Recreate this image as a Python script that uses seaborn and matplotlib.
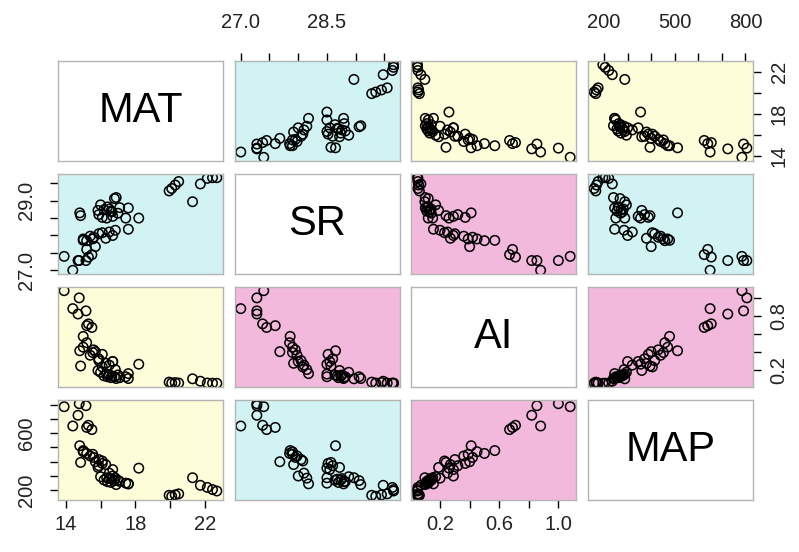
import matplotlib
matplotlib.use("Agg")
import matplotlib.pyplot as plt
import seaborn as sns
import pandas as pd

MAT = [19.95, 20.10, 20.30, 20.50, 21.30, 21.75, 22.15, 22.45, 22.70,
       13.90, 14.77, 15.16, 14.70, 14.40, 15.30, 15.50, 15.20, 14.80, 15.00, 14.85,
       18.20, 17.60, 17.45, 17.10, 16.90, 16.80, 16.65, 16.50, 16.35, 16.20, 16.00,
       16.40, 16.60, 17.00, 15.90, 16.10, 15.85, 16.70,
       17.60, 15.00, 15.20, 15.40, 15.70, 15.60, 15.90, 16.10, 16.30, 16.50, 16.70,
       15.55, 16.85]
SR = [29.28, 29.35, 29.45, 29.55, 28.97, 29.48, 29.64, 29.66, 29.66,
      27.40, 27.28, 27.28, 27.28, 27.00, 27.38, 27.45, 27.60, 28.65, 27.86, 28.57,
      28.50, 28.79, 28.50, 28.80, 29.09, 29.06, 28.68, 28.76, 28.50, 28.74, 28.88,
      28.82, 28.70, 28.64, 28.60, 28.52, 28.72, 28.55,
      28.18, 27.90, 27.85, 27.98, 27.68, 27.95, 28.05, 28.08, 27.92, 28.10, 28.00,
      27.90, 28.15]
AI = [0.060, 0.050, 0.055, 0.050, 0.097, 0.070, 0.050, 0.048, 0.047,
      1.080, 1.000, 0.855, 0.820, 0.880, 0.710, 0.670, 0.690, 0.410, 0.570, 0.240,
      0.260, 0.100, 0.120, 0.110, 0.100, 0.120, 0.130, 0.140, 0.150, 0.130, 0.170,
      0.120, 0.110, 0.140, 0.320, 0.370, 0.190, 0.290,
      0.155, 0.450, 0.500, 0.360, 0.400, 0.420, 0.300, 0.230, 0.270, 0.250, 0.290,
      0.390, 0.200]
MAP = [165, 158, 168, 175, 288, 235, 220, 205, 195,
       785, 806, 792, 725, 650, 655, 625, 640, 512, 478, 395,
       355, 245, 250, 262, 240, 268, 278, 282, 288, 272, 295,
       260, 255, 270, 372, 388, 360, 345,
       245, 470, 458, 440, 400, 430, 415, 405, 380, 320, 300,
       452, 285]

variables = ["MAT", "SR", "AI", "MAP"]
df = pd.DataFrame({"MAT": MAT, "SR": SR, "AI": AI, "MAP": MAP})

# tick positions and which ones carry labels (as in the reference)
tick_pos = {
    "MAT": [14, 16, 18, 20, 22],
    "SR": [27.0, 27.5, 28.0, 28.5, 29.0, 29.5],
    "AI": [0.2, 0.4, 0.6, 0.8, 1.0],
    "MAP": [200, 300, 400, 500, 600, 700, 800],
}
xlab_shown = {
    "MAT": ["14", "", "18", "", "22"],
    "SR": ["27.0", "", "", "28.5", "", ""],
    "AI": ["0.2", "", "0.6", "", "1.0"],
    "MAP": ["200", "", "", "500", "", "", "800"],
}
ylab_shown = {
    "MAT": ["14", "", "18", "", "22"],
    "SR": ["27.0", "", "", "", "29.0", ""],
    "AI": ["0.2", "", "", "0.8", ""],
    "MAP": ["200", "", "", "", "600", "", ""],
}

CYAN = "#d2f3f3"
YELLOW = "#fdfdda"
PINK = "#f3b9dc"
panel_color = {(0, 1): CYAN, (0, 2): YELLOW, (0, 3): YELLOW,
               (1, 2): PINK, (1, 3): CYAN, (2, 3): PINK}

sns.set_theme(style="ticks")
plt.rcParams["font.family"] = ["Liberation Sans", "DejaVu Sans"]
plt.rcParams["xtick.major.size"] = 6
plt.rcParams["ytick.major.size"] = 6
plt.rcParams["xtick.major.width"] = 1.0
plt.rcParams["ytick.major.width"] = 1.0

fig, axes = plt.subplots(4, 4, figsize=(7.99, 5.52), dpi=100)
fig.subplots_adjust(left=0.0726, right=0.9424, top=0.8895, bottom=0.0942,
                    wspace=0.071, hspace=0.13)


def limits(v):
    lo, hi = min(df[v]), max(df[v])
    r = hi - lo
    return lo - 0.04 * r, hi + 0.04 * r


FS = 14.5
TICK = dict(direction="out", length=6, width=1.0, color="black",
            labelcolor="#222222")
for i, yv in enumerate(variables):
    for j, xv in enumerate(variables):
        ax = axes[i, j]
        for s in ax.spines.values():
            s.set_color("#b4b4b4")
            s.set_linewidth(1.0)
        if i == j:
            ax.set_facecolor("white")
            ax.text(0.5, 0.5, xv, transform=ax.transAxes, ha="center",
                    va="center", fontsize=30, color="black")
            ax.set_xticks([])
            ax.set_yticks([])
            continue
        key = (min(i, j), max(i, j))
        ax.set_facecolor(panel_color[key])
        sns.scatterplot(data=df, x=xv, y=yv, ax=ax, marker="o", s=46,
                        facecolor="none", edgecolor="black", linewidth=1.1,
                        legend=False)
        ax.set_xlabel("")
        ax.set_ylabel("")
        ax.set_xlim(limits(xv))
        ax.set_ylim(limits(yv))

        # x axis: bottom for columns 0, 2 on last row; top for columns 1, 3 on first row
        if i == 3 and j in (0, 2):
            ax.set_xticks(tick_pos[xv])
            ax.set_xticklabels(xlab_shown[xv], fontsize=FS)
            ax.tick_params(axis="x", bottom=True, top=False, labelbottom=True,
                           labeltop=False, pad=5, **TICK)
        elif i == 0 and j in (1, 3):
            ax.xaxis.set_ticks_position("top")
            ax.set_xticks(tick_pos[xv])
            ax.set_xticklabels(xlab_shown[xv], fontsize=FS)
            ax.tick_params(axis="x", bottom=False, top=True, labelbottom=False,
                           labeltop=True, pad=15, **TICK)
        else:
            ax.set_xticks([])

        # y axis: left for rows 1, 3 in first column; right for rows 0, 2 in last column
        if j == 0 and i in (1, 3):
            ax.set_yticks(tick_pos[yv])
            ax.set_yticklabels(ylab_shown[yv], fontsize=FS, rotation=90,
                               va="center", ha="right")
            ax.tick_params(axis="y", left=True, right=False, labelleft=True,
                           labelright=False, pad=10, **TICK)
        elif j == 3 and i in (0, 2):
            ax.yaxis.set_ticks_position("right")
            ax.set_yticks(tick_pos[yv])
            ax.set_yticklabels(ylab_shown[yv], fontsize=FS, rotation=90,
                               va="center", ha="left")
            ax.tick_params(axis="y", left=False, right=True, labelleft=False,
                           labelright=True, pad=6, **TICK)
        else:
            ax.set_yticks([])

fig.savefig("out.png", dpi=100)
